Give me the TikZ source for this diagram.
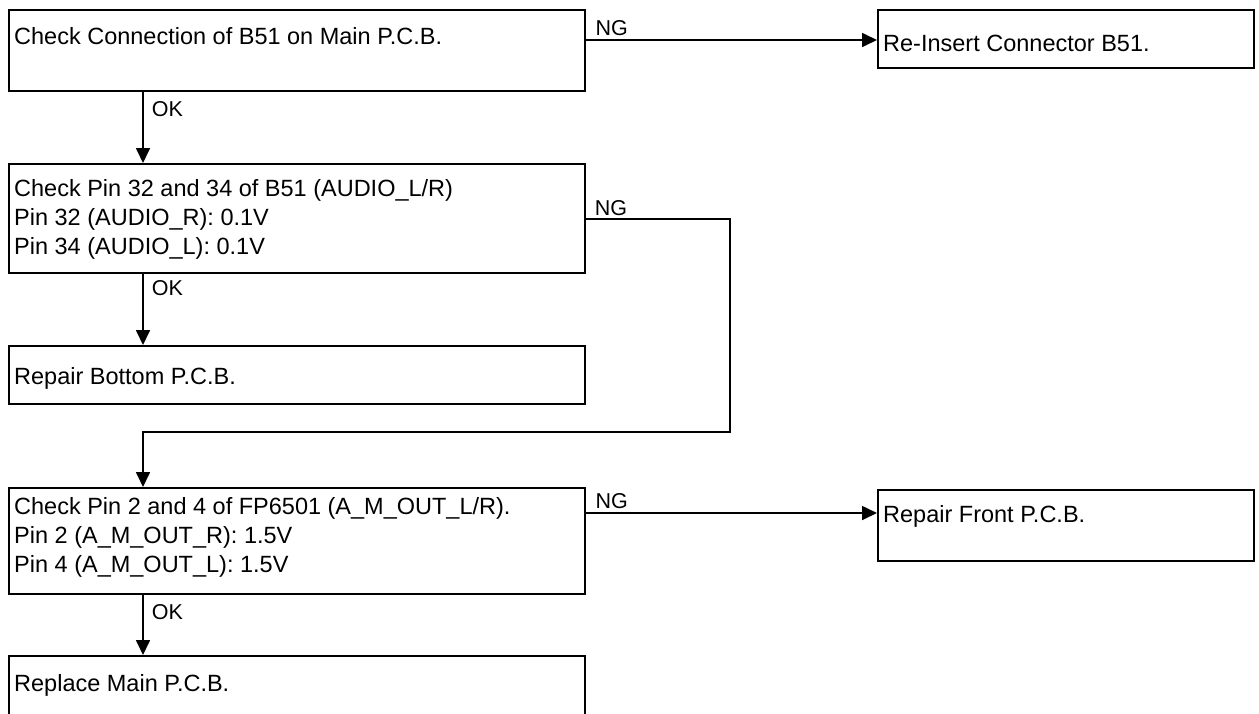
\documentclass[tikz,border=0pt]{standalone}
\usepackage{fontspec}
\setmainfont{Liberation Sans}
\usetikzlibrary{arrows.meta,calc}
\begin{document}
\begin{tikzpicture}[x=1pt,y=-1pt,
  box/.style={draw,line width=1.7pt,inner sep=0pt,anchor=north west},
  txt/.style={anchor=west,inner sep=0pt,font=\fontsize{23.5}{29}\selectfont,align=left},
  lbl/.style={anchor=south west,inner sep=0pt,font=\fontsize{21.5}{22}\selectfont},
  ln/.style={line width=1.7pt},
  arr/.style={line width=1.7pt,-{Triangle[length=15pt,width=14pt]}}]
\useasboundingbox (0,0) rectangle (1259,713);
% boxes
\node[box,minimum width=576pt,minimum height=81pt] (b1) at (8,9) {};
\node[box,minimum width=376pt,minimum height=58pt] (r1) at (877,9) {};
\node[box,minimum width=576pt,minimum height=109pt] (b2) at (8,163) {};
\node[box,minimum width=576pt,minimum height=58pt] (b3) at (8,345) {};
\node[box,minimum width=576pt,minimum height=106pt] (b4) at (8,487) {};
\node[box,minimum width=376pt,minimum height=71pt] (r2) at (877,489) {};
\node[box,minimum width=576pt,minimum height=62pt] (b5) at (8,655) {};
% texts
\node[txt] (t1) at (14,36) {Check Connection of B51 on Main P.C.B.};
\node[txt] (tr1) at (883,43) {Re-Insert Connector B51.};
\node[txt] (t2) at (14,219) {Check Pin 32 and 34 of B51 (AUDIO\_L/R)\\Pin 32 (AUDIO\_R): 0.1V\\Pin 34 (AUDIO\_L): 0.1V};
\node[txt] (t3) at (14,378) {Repair Bottom P.C.B.};
\node[txt] (t4) at (14,537) {Check Pin 2 and 4 of FP6501 (A\_M\_OUT\_L/R).\\Pin 2 (A\_M\_OUT\_R): 1.5V\\Pin 4 (A\_M\_OUT\_L): 1.5V};
\node[txt] (tr2) at (883,516) {Repair Front P.C.B.};
\node[txt] (t5) at (14,685) {Replace Main P.C.B.};
% connectors
\coordinate (p1) at ($(b1.north east)+(0,31)$);
\draw[arr] (p1) -- (r1.west |- p1) node[lbl,pos=0,xshift=9pt,yshift=3pt] (ng1) {NG};
\draw[arr] ($(b1.south west)+(135,0)$) -- ($(b2.north west)+(135,0)$) node[lbl,pos=0,anchor=north west,xshift=8pt,yshift=-9pt] (ok1) {OK};
\coordinate (p2) at ($(b2.north east)+(0,56)$);
\coordinate (c2) at (730,432);
\draw[arr] (p2) -- (c2 |- p2) -- (c2) -- ($(b4.north west)+(135,-55)$) -- ($(b4.north west)+(135,0)$);
\node[lbl] (ng2) at ($(p2)+(9,-3)$) {NG};
\draw[arr] ($(b2.south west)+(135,0)$) -- ($(b3.north west)+(135,0)$) node[lbl,pos=0,anchor=north west,xshift=8pt,yshift=-6pt] (ok2) {OK};
\coordinate (p3) at ($(b4.north east)+(0,26)$);
\draw[arr] (p3) -- (r2.west |- p3) node[lbl,pos=0,xshift=9pt,yshift=3pt] (ng3) {NG};
\draw[arr] ($(b4.south west)+(135,0)$) -- ($(b5.north west)+(135,0)$) node[lbl,pos=0,anchor=north west,xshift=8pt,yshift=-9pt] (ok3) {OK};
\end{tikzpicture}
\end{document}
